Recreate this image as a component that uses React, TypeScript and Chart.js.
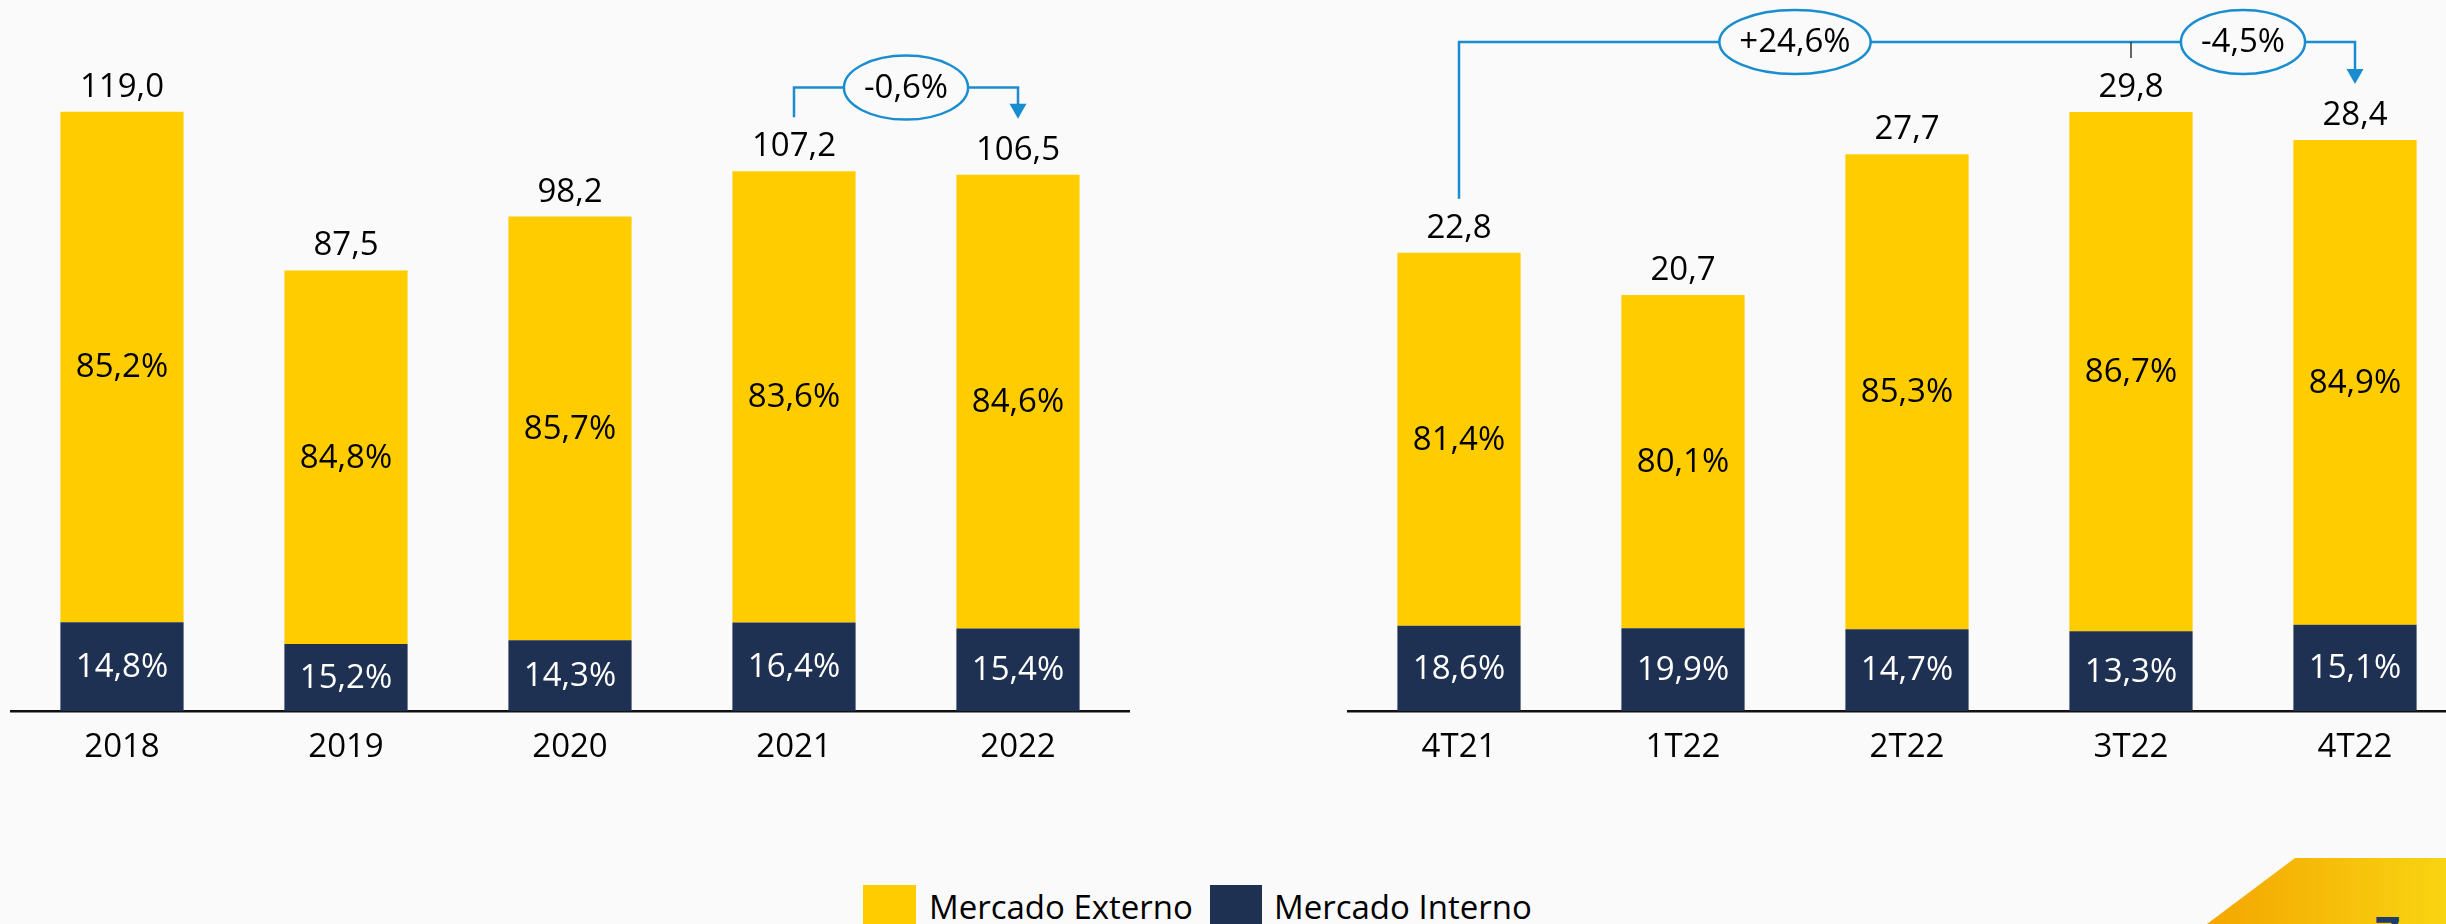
import React, { useEffect, useRef } from 'react';
import { Chart, registerables } from 'chart.js';

Chart.register(...registerables);

// ---------- data ----------
const annualLabels = ['2018', '2019', '2020', '2021', '2022'];
const annualTotals = [119.0, 87.5, 98.2, 107.2, 106.5];
const annualExternoPct = [85.2, 84.8, 85.7, 83.6, 84.6];
const annualInternoPct = [14.8, 15.2, 14.3, 16.4, 15.4];

const quarterLabels = ['4T21', '1T22', '2T22', '3T22', '4T22'];
const quarterTotals = [22.8, 20.7, 27.7, 29.8, 28.4];
const quarterExternoPct = [81.4, 80.1, 85.3, 86.7, 84.9];
const quarterInternoPct = [18.6, 19.9, 14.7, 13.3, 15.1];

const seriesNames = ['Mercado Externo', 'Mercado Interno'];

const annualChanges = [{ a: 3, b: 4, text: '-0,6%' }];
const quarterChanges = [
  { a: 0, b: 3, text: '+24,6%' },
  { a: 3, b: 4, text: '-4,5%' },
];

// ---------- styles ----------
const FONT = '"Open Sans", "Noto Sans", sans-serif';
const YELLOW = '#FFCC00';
const NAVY = '#1F3152';
const BLUE = '#1A8DD0';
const BG = '#FAFAFA';
const FS = 33;
const PLOT_BOTTOM = 711;
const CANVAS_H = 790;

const fmt = (v: number) => v.toFixed(1).replace('.', ',');

const barLabelsPlugin = {
  id: 'barLabels',
  afterDatasetsDraw(chart: any, _args: any, opts: any) {
    const { ctx } = chart;
    const metaI = chart.getDatasetMeta(0);
    const metaE = chart.getDatasetMeta(1);
    ctx.save();
    ctx.font = `${FS}px ${FONT}`;
    ctx.textAlign = 'center';
    metaE.data.forEach((barE: any, i: number) => {
      const e = barE.getProps(['x', 'y', 'base'], true);
      const n = metaI.data[i].getProps(['x', 'y', 'base'], true);
      ctx.fillStyle = '#000';
      ctx.textBaseline = 'alphabetic';
      ctx.fillText(fmt(opts.totals[i]), e.x, e.y - 15);
      ctx.textBaseline = 'middle';
      ctx.fillText(fmt(opts.externoPct[i]) + '%', e.x, (e.y + e.base) / 2 + 1);
      ctx.fillStyle = '#FFFFFF';
      ctx.fillText(fmt(opts.internoPct[i]) + '%', n.x, (n.y + n.base) / 2 + 1);
    });
    ctx.restore();
  },
};

const bracketPlugin = {
  id: 'bracket',
  afterDraw(chart: any, _args: any, opts: any) {
    if (!opts || !opts.changes) return;
    const { ctx } = chart;
    const meta = chart.getDatasetMeta(1);
    const xs = (i: number) => meta.data[i].x;
    const tops = (i: number) => meta.data[i].y;
    const levelY = chart.scales.y.getPixelForValue(opts.level);
    const from = opts.from;
    const to = opts.to;
    ctx.save();
    ctx.strokeStyle = BLUE;
    ctx.lineWidth = 2.5;
    const tipY = tops(to) - 56;
    ctx.beginPath();
    ctx.moveTo(xs(from), tops(from) - 54);
    ctx.lineTo(xs(from), levelY);
    ctx.lineTo(xs(to), levelY);
    ctx.lineTo(xs(to), tipY - 12);
    ctx.stroke();
    ctx.fillStyle = BLUE;
    ctx.beginPath();
    ctx.moveTo(xs(to) - 8.5, tipY - 15);
    ctx.lineTo(xs(to) + 8.5, tipY - 15);
    ctx.lineTo(xs(to), tipY);
    ctx.closePath();
    ctx.fill();
    (opts.ticks || []).forEach((t: number) => {
      ctx.strokeStyle = '#333';
      ctx.lineWidth = 1.5;
      ctx.beginPath();
      ctx.moveTo(xs(t), levelY);
      ctx.lineTo(xs(t), tops(t) - 54);
      ctx.stroke();
    });
    ctx.font = `${FS}px ${FONT}`;
    ctx.textAlign = 'center';
    ctx.textBaseline = 'middle';
    opts.changes.forEach((c: any) => {
      const cx = (xs(c.a) + xs(c.b)) / 2;
      const tw = ctx.measureText(c.text).width;
      const rx = tw / 2 + 20;
      ctx.beginPath();
      ctx.ellipse(cx, levelY, rx, 32, 0, 0, Math.PI * 2);
      ctx.fillStyle = BG;
      ctx.fill();
      ctx.strokeStyle = BLUE;
      ctx.lineWidth = 2.5;
      ctx.stroke();
      ctx.fillStyle = '#000';
      ctx.fillText(c.text, cx, levelY + 1);
    });
    ctx.restore();
  },
};

// keeps the plot area bottom on the same pixel row in both charts
const plotBottomPlugin = {
  id: 'plotBottom',
  afterLayout(chart: any) {
    const diff = PLOT_BOTTOM - chart.chartArea.bottom;
    if (Math.abs(diff) > 0.5 && !chart.$fixed) {
      chart.$fixed = true;
      chart.options.layout.padding.bottom = Math.max(0, chart.options.layout.padding.bottom - diff);
      chart.update('none');
    }
  },
};

function makeConfig(
  labels: string[],
  totals: number[],
  extPct: number[],
  intPct: number[],
  yMax: number,
  bracket: any
): any {
  return {
    type: 'bar',
    data: {
      labels,
      datasets: [
        {
          label: seriesNames[1],
          data: totals.map((t, i) => (t * intPct[i]) / 100),
          backgroundColor: NAVY,
        },
        {
          label: seriesNames[0],
          data: totals.map((t, i) => (t * extPct[i]) / 100),
          backgroundColor: YELLOW,
        },
      ],
    },
    options: {
      responsive: false,
      animation: false,
      layout: { padding: { top: 0, bottom: 3.4, left: 0, right: 0 } },
      datasets: { bar: { categoryPercentage: 1, barPercentage: 0.55 } },
      plugins: {
        legend: { display: false },
        tooltip: { enabled: false },
        barLabels: { totals, externoPct: extPct, internoPct: intPct },
        bracket,
      },
      scales: {
        x: {
          stacked: true,
          offset: true,
          grid: { display: false, drawTicks: false },
          border: { display: true, color: '#111', width: 2.5 },
          ticks: { color: '#000', font: { family: FONT, size: FS }, padding: 17 },
        },
        y: { stacked: true, display: false, min: 0, max: yMax },
      },
    },
    plugins: [barLabelsPlugin, bracketPlugin, plotBottomPlugin],
  };
}

function BarChart(props: { cfg: () => any; left: number }) {
  const ref = useRef<HTMLCanvasElement | null>(null);
  useEffect(() => {
    if (!ref.current) return;
    const chart = new Chart(ref.current, props.cfg());
    return () => chart.destroy();
  }, []);
  return (
    <canvas
      ref={ref}
      width={1120}
      height={CANVAS_H}
      style={{ position: 'absolute', left: props.left, top: 0, width: 1120, height: CANVAS_H }}
    />
  );
}

export default function App() {
  const legendText: React.CSSProperties = {
    position: 'absolute',
    top: 890,
    fontFamily: FONT,
    fontSize: FS,
    lineHeight: `${FS}px`,
    color: '#000',
    whiteSpace: 'nowrap',
  };
  return (
    <div
      style={{
        position: 'fixed',
        left: 0,
        top: 0,
        width: 2446,
        height: 924,
        overflow: 'hidden',
        background: BG,
      }}
    >
      <BarChart
        left={10}
        cfg={() =>
          makeConfig(annualLabels, annualTotals, annualExternoPct, annualInternoPct, 141.2, {
            from: 3,
            to: 4,
            level: 123.8,
            changes: annualChanges,
            ticks: [],
          })
        }
      />
      <BarChart
        left={1347}
        cfg={() =>
          makeConfig(quarterLabels, quarterTotals, quarterExternoPct, quarterInternoPct, 35.37, {
            from: 0,
            to: 4,
            level: 33.28,
            changes: quarterChanges,
            ticks: [3],
          })
        }
      />
      {/* legend */}
      <div style={{ position: 'absolute', left: 863, top: 885, width: 53, height: 60, background: YELLOW }} />
      <div style={{ ...legendText, left: 929 }}>{seriesNames[0]}</div>
      <div style={{ position: 'absolute', left: 1210, top: 885, width: 52, height: 60, background: NAVY }} />
      <div style={{ ...legendText, left: 1274 }}>{seriesNames[1]}</div>
      {/* page decoration */}
      <div
        style={{
          position: 'absolute',
          left: 2207,
          top: 858,
          width: 239,
          height: 66,
          background: 'linear-gradient(to right, #F4A600, #F9D412)',
          clipPath: 'polygon(88px 0, 100% 0, 100% 100%, 0 100%)',
        }}
      />
      <div
        style={{
          position: 'absolute',
          left: 2375,
          top: 910,
          fontFamily: FONT,
          fontWeight: 700,
          fontSize: 44,
          lineHeight: '44px',
          color: '#1F3D6B',
        }}
      >
        7
      </div>
    </div>
  );
}
